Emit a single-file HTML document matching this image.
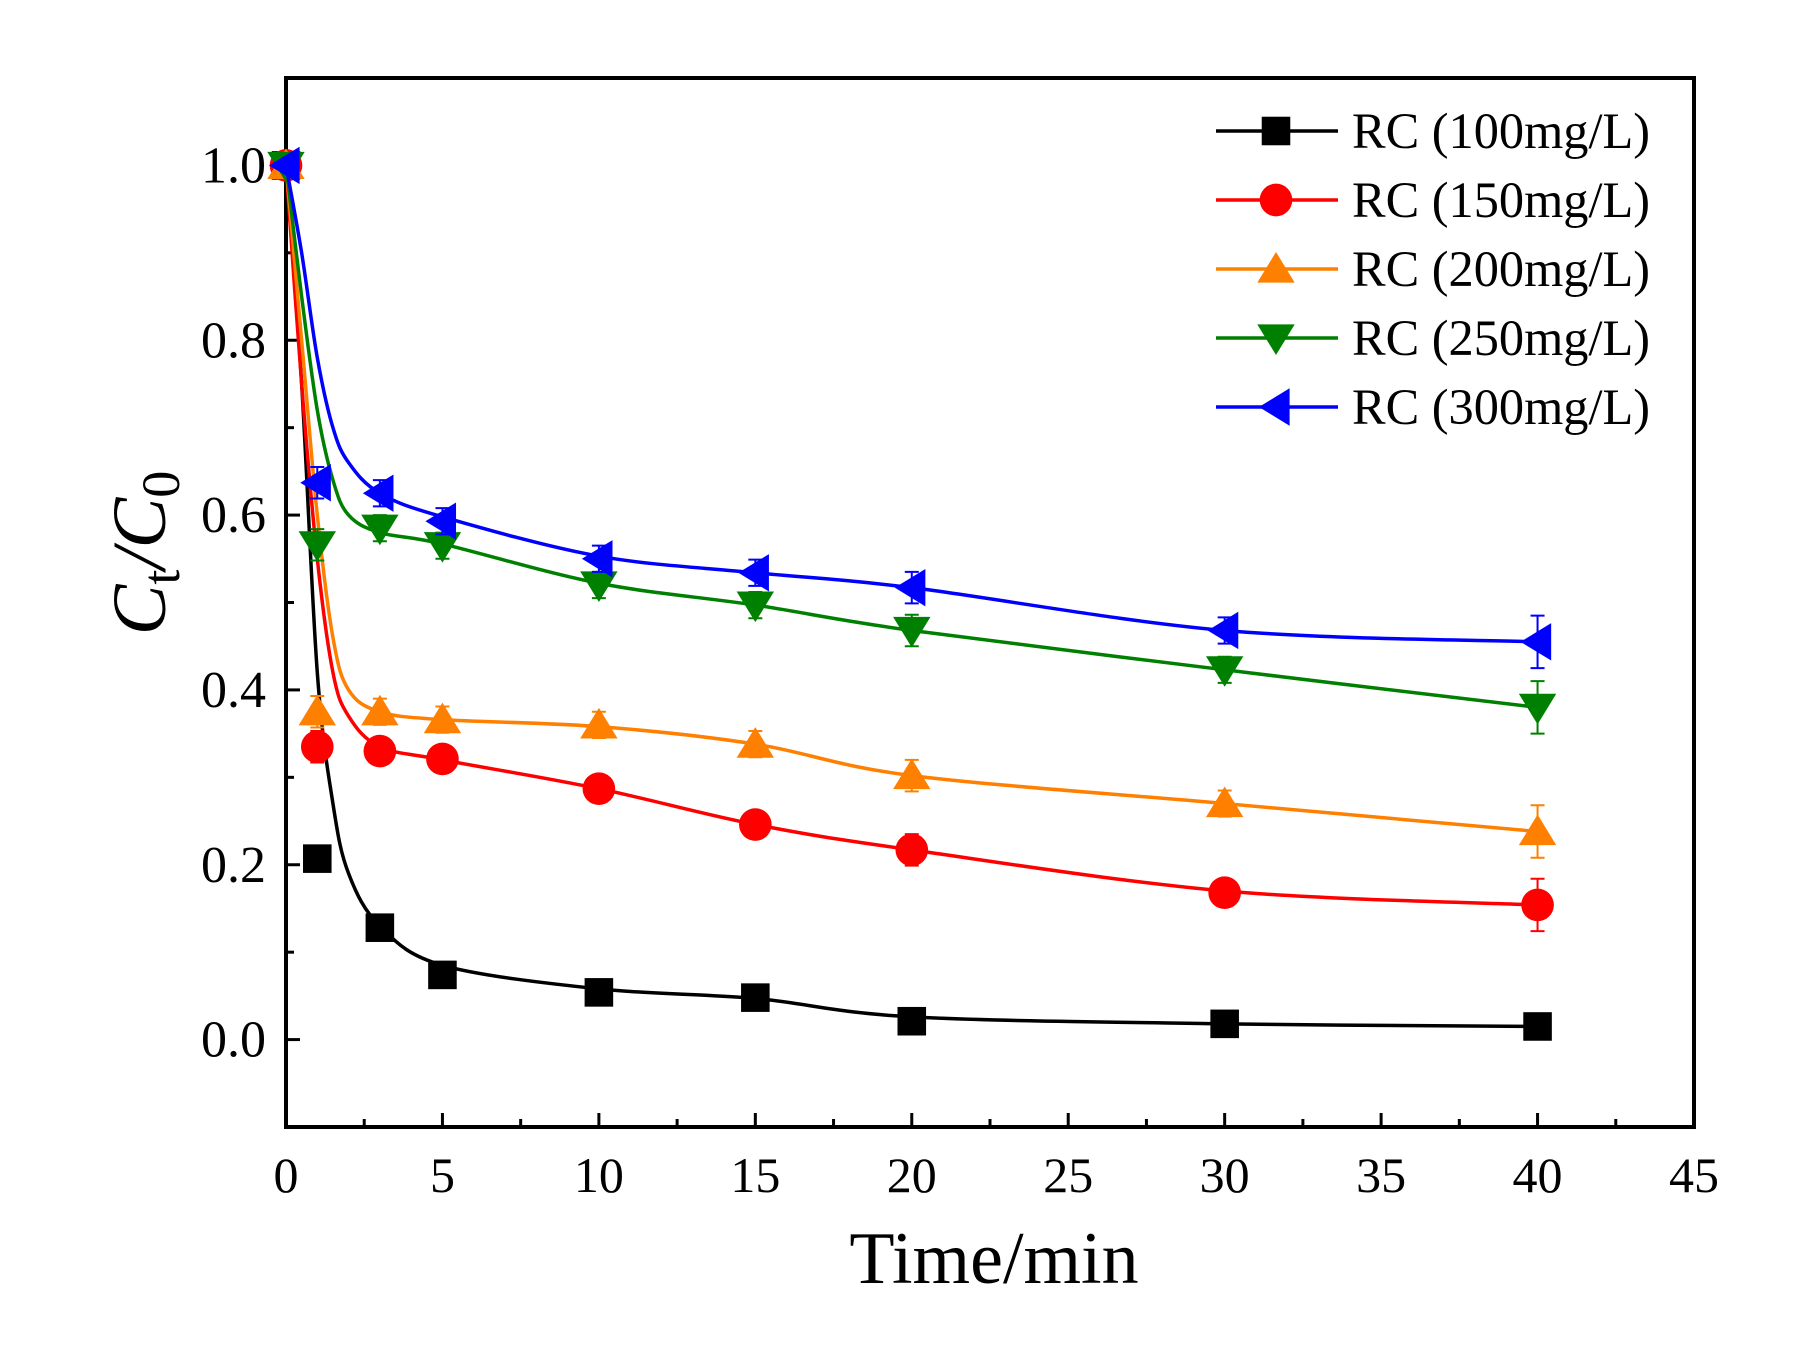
<!DOCTYPE html>
<html><head><meta charset="utf-8"><style>
html,body{margin:0;padding:0;background:#fff;}
svg{display:block;font-family:"Liberation Serif",serif;}
</style></head><body>
<svg id="chart" width="1799" height="1363" viewBox="0 0 1799 1363" xmlns="http://www.w3.org/2000/svg"></svg>
<script>
const times=[0,1,3,5,10,15,20,30,40];
const s100=[1.0,0.207,0.128,0.074,0.054,0.048,0.021,0.018,0.015];
const s150=[1.0,0.335,0.330,0.321,0.287,0.246,0.217,0.168,0.154];
const s200=[1.0,0.375,0.375,0.366,0.360,0.338,0.302,0.270,0.238];
const s250=[1.0,0.566,0.585,0.565,0.520,0.497,0.468,0.423,0.380];
const s300=[1.0,0.637,0.625,0.593,0.550,0.534,0.517,0.468,0.455];
const err=[0,0.018,0.015,0.015,0.015,0.015,0.018,0.015,0.03];
const fitTimes=[0,0.5,1,1.5,2,3,5,10,15,20,30,40];
const f100=[1.0,0.75,0.42,0.27,0.19,0.13,0.085,0.058,0.047,0.026,0.018,0.015];
const f150=[1.0,0.75,0.55,0.42,0.37,0.335,0.32,0.287,0.246,0.217,0.17,0.154];
const f200=[1.0,0.8,0.6,0.46,0.40,0.375,0.366,0.358,0.338,0.302,0.27,0.238];
const f250=[1.0,0.85,0.72,0.64,0.60,0.58,0.567,0.522,0.497,0.468,0.423,0.38];
const f300=[1.0,0.9,0.78,0.70,0.66,0.625,0.598,0.553,0.534,0.517,0.468,0.455];
const xTicks=[0,5,10,15,20,25,30,35,40,45];
const yTicks=[0.0,0.2,0.4,0.6,0.8,1.0];
const legendLabels=["RC (100mg/L)","RC (150mg/L)","RC (200mg/L)","RC (250mg/L)","RC (300mg/L)"];

const L=286,R=1694,T=78,B=1127;
const xs=v=>L+(v-0)/45*(R-L);
const ys=v=>B-(v+0.1)/1.2*(B-T);
const NS="http://www.w3.org/2000/svg";
const svg=document.getElementById('chart');
function mk(tag,attrs,parent){const e=document.createElementNS(NS,tag);for(const k in attrs)e.setAttribute(k,attrs[k]);(parent||svg).appendChild(e);return e;}

const series=[
 {d:s100,f:f100,c:"#000000",m:"square",n:"rc-100",e:false},
 {d:s150,f:f150,c:"#ff0000",m:"circle",n:"rc-150",e:true},
 {d:s200,f:f200,c:"#ff8000",m:"up",n:"rc-200",e:true},
 {d:s250,f:f250,c:"#008000",m:"down",n:"rc-250",e:true},
 {d:s300,f:f300,c:"#0000ff",m:"left",n:"rc-300",e:true}];

function marker(g,type,cx,cy,c,s){
 let e;
 if(type==="square") e=mk('rect',{x:cx-s*0.42,y:cy-s*0.42,width:s*0.84,height:s*0.84,fill:c},g);
 else if(type==="circle") e=mk('circle',{cx:cx,cy:cy,r:s*0.48,fill:c},g);
 else {
  const h=s*0.5;let p;
  if(type==="up") p=[[cx,cy-h],[cx+h*1.1,cy+h*0.8],[cx-h*1.1,cy+h*0.8]];
  if(type==="down") p=[[cx,cy+h],[cx+h*1.1,cy-h*0.8],[cx-h*1.1,cy-h*0.8]];
  if(type==="left") p=[[cx-h,cy],[cx+h*0.8,cy-h*1.1],[cx+h*0.8,cy+h*1.1]];
  e=mk('polygon',{points:p.map(q=>q.join(',')).join(' '),fill:c},g);
 }
 return e;
}
function smoothPath(px){
 let d="M"+px[0][0]+","+px[0][1];
 for(let i=0;i<px.length-1;i++){
  const p0=px[Math.max(i-1,0)],p1=px[i],p2=px[i+1],p3=px[Math.min(i+2,px.length-1)];
  const c1=[p1[0]+(p2[0]-p0[0])/6,p1[1]+(p2[1]-p0[1])/6];
  const c2=[p2[0]-(p3[0]-p1[0])/6,p2[1]-(p3[1]-p1[1])/6];
  d+=" C"+c1.join(",")+" "+c2.join(",")+" "+p2.join(",");
 }
 return d;
}

const frame=mk('rect',{x:L,y:T,width:R-L,height:B-T,fill:"none",stroke:"#000","stroke-width":4});



for(let v=0;v<=45;v+=2.5){
 const major=(v%5===0);
 const t=mk('line',{x1:xs(v),x2:xs(v),y1:B,y2:B-(major?14:8),stroke:"#000","stroke-width":3});
 
 
}
xTicks.forEach(v=>{
 const t=mk('text',{x:xs(v),y:1192,"font-size":50,"text-anchor":"middle"});
 t.textContent=v;
 
 
});
for(let v=-0.1;v<=1.1001;v+=0.1){
 const major=Math.abs(Math.round(v*10)%2)===0;
 const t=mk('line',{x1:L,x2:L+(major?14:8),y1:ys(v),y2:ys(v),stroke:"#000","stroke-width":3});
 
 
}
yTicks.forEach(v=>{
 const t=mk('text',{x:266,y:ys(v)+17,"font-size":52,"text-anchor":"end"});
 t.textContent=v.toFixed(1);
 
 
});
const xt=mk('text',{x:994,y:1283,"font-size":74,"text-anchor":"middle"});
xt.textContent="Time/min";


const yt=mk('text',{transform:"translate(165,553) rotate(-90)","font-size":76,"text-anchor":"middle","font-style":"italic"});
yt.innerHTML='C<tspan font-size="54" font-style="normal" dy="14">t</tspan><tspan dy="-14">/C</tspan><tspan font-size="54" font-style="normal" dy="14">0</tspan>';



series.forEach(s=>{
 const g=mk('g',{});
 
 
 const pts=fitTimes.map((t,i)=>[xs(t),ys(s.f[i])]);
 const p=mk('path',{d:smoothPath(pts),fill:"none",stroke:s.c,"stroke-width":3.5},g);
 
 
 times.forEach((t,i)=>{
  const cx=xs(t),cy=ys(s.d[i]);
  if(s.e&&err[i]>0){
   const e=mk('path',{d:`M${cx},${ys(s.d[i]-err[i])}V${ys(s.d[i]+err[i])}M${cx-7},${ys(s.d[i]-err[i])}h14M${cx-7},${ys(s.d[i]+err[i])}h14`,stroke:s.c,"stroke-width":2,fill:"none"},g);
   
   
  }
  const m=marker(g,s.m,cx,cy,s.c,34);
  
  
 });
});

const lg=mk('g',{});


series.forEach((s,i)=>{
 const y=131+i*69;
 const ln=mk('line',{x1:1216,x2:1338,y1:y,y2:y,stroke:s.c,"stroke-width":3.5},lg);
 
 
 const m=marker(lg,s.m,1276,y,s.c,34);
 
 
 const t=mk('text',{x:1352,y:y+17,"font-size":51,"textLength":298,"lengthAdjust":"spacingAndGlyphs"},lg);
 t.textContent=legendLabels[i];
 
 
});
</script>
</body></html>
